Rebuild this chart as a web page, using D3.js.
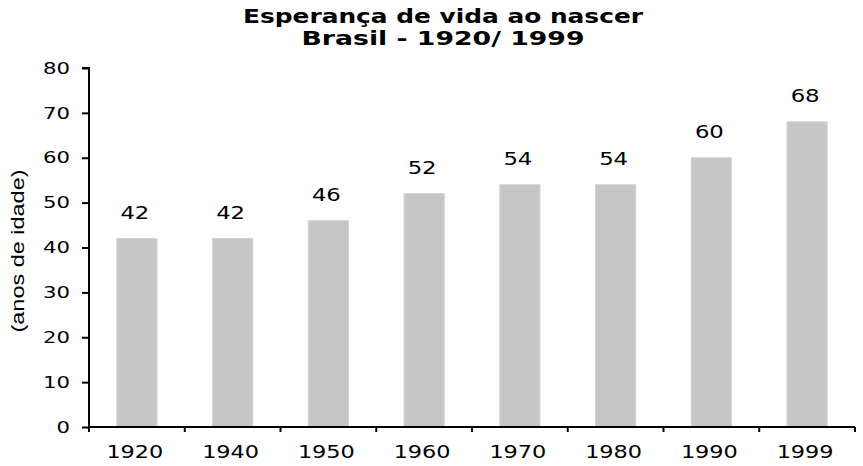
<!DOCTYPE html>
<html>
<head>
<meta charset="utf-8">
<script src="https://cdn.jsdelivr.net/npm/d3@7"></script>
<style>
  body { margin: 0; background: #fff; }
  #chart { width: 863px; height: 466px; }
  text { font-family: "DejaVu Sans", Verdana, sans-serif; fill: #000; }
</style>
</head>
<body>
<div id="chart"></div>
<script>
// data
const years = ["1920", "1940", "1950", "1960", "1970", "1980", "1990", "1999"];
const lifeExpectancy = [42, 42, 46, 52, 54, 54, 60, 68];
const yTicks = [0, 10, 20, 30, 40, 50, 60, 70, 80];
const titleLines = ["Esperança de vida ao nascer", "Brasil - 1920/ 1999"];
const yLabel = "(anos de idade)";

const width = 863;
const height = 466;
const margin = { top: 68, right: 8, bottom: 39, left: 89 };

const svg = d3.select("#chart")
    .append("svg")
    .attr("width", width)
    .attr("height", height);

// scales
const x = d3.scaleBand()
    .domain(years)
    .range([margin.left, width - margin.right])
    .padding(0);

const y = d3.scaleLinear()
    .domain([0, 80])
    .range([height - margin.bottom, margin.top]);

const barW = x.bandwidth() * 0.42;

// bars
svg.append("g")
    .selectAll("rect")
    .data(years)
    .join("rect")
    .attr("x", d => x(d) + (x.bandwidth() - barW) / 2)
    .attr("y", (d, i) => y(lifeExpectancy[i]))
    .attr("width", barW)
    .attr("height", (d, i) => y(0) - y(lifeExpectancy[i]))
    .attr("fill", "#c6c6c6")
    .attr("stroke", "#d4d4d4")
    .attr("stroke-width", 1);

// value labels (wide glyphs, stretched like the original)
svg.append("g")
    .selectAll("text")
    .data(years)
    .join("text")
    .attr("x", d => x(d) + x.bandwidth() / 2 - 2)
    .attr("y", (d, i) => y(lifeExpectancy[i]) - 20)
    .attr("text-anchor", "middle")
    .attr("font-size", 18)
    .attr("textLength", 29)
    .attr("lengthAdjust", "spacingAndGlyphs")
    .text((d, i) => lifeExpectancy[i]);

// y axis
const yAxis = svg.append("g")
    .attr("transform", `translate(${margin.left},0)`)
    .call(d3.axisLeft(y).tickValues(yTicks).tickSize(7).tickPadding(12).tickFormat(d3.format("d")));
yAxis.select(".domain").attr("stroke-width", 2).attr("d", `M-7,${y(80)}H0V${y(0)}`);
yAxis.selectAll(".tick line").attr("stroke-width", 2);
yAxis.selectAll(".tick text")
    .attr("font-size", 16)
    .attr("font-family", "DejaVu Sans, sans-serif")
    .attr("textLength", d => String(d).length * 13.5)
    .attr("lengthAdjust", "spacingAndGlyphs");

// x axis: ticks sit on category boundaries
const xAxis = svg.append("g")
    .attr("transform", `translate(0,${y(0)})`);
xAxis.append("line")
    .attr("x1", margin.left).attr("x2", width - margin.right)
    .attr("stroke", "#000").attr("stroke-width", 2);
xAxis.selectAll(".xtick")
    .data(years.concat(["end"]))
    .join("line")
    .attr("class", "xtick")
    .attr("x1", d => d === "end" ? x.range()[1] : x(d))
    .attr("x2", d => d === "end" ? x.range()[1] : x(d))
    .attr("y1", 0).attr("y2", 5)
    .attr("stroke", "#000").attr("stroke-width", 2);
xAxis.selectAll(".xlab")
    .data(years)
    .join("text")
    .attr("class", "xlab")
    .attr("x", d => x(d) + x.bandwidth() / 2 - 2)
    .attr("y", 31)
    .attr("text-anchor", "middle")
    .attr("font-size", 18)
    .attr("textLength", 57)
    .attr("lengthAdjust", "spacingAndGlyphs")
    .text(d => d);

// y axis title
svg.append("text")
    .attr("transform", `translate(24,251) rotate(-90)`)
    .attr("text-anchor", "middle")
    .attr("font-family", "Liberation Sans, Arial, sans-serif")
    .attr("font-size", 18)
    .attr("textLength", 163)
    .attr("lengthAdjust", "spacingAndGlyphs")
    .style("font-family", "'Liberation Sans', Arial, sans-serif")
    .text(yLabel);

// chart title
const titleWidths = [400, 283];
svg.append("g")
    .selectAll("text")
    .data(titleLines)
    .join("text")
    .attr("x", 443)
    .attr("y", (d, i) => 23 + i * 22)
    .attr("text-anchor", "middle")
    .attr("font-size", 20)
    .attr("font-weight", "bold")
    .attr("textLength", (d, i) => titleWidths[i])
    .attr("lengthAdjust", "spacingAndGlyphs")
    .text(d => d);
</script>
</body>
</html>
